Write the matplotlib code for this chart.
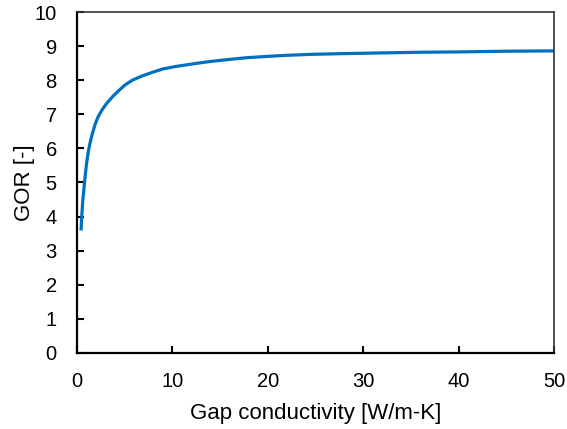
import matplotlib
matplotlib.use('Agg')
import matplotlib.pyplot as plt
import numpy as np

plt.rcParams['font.family'] = ['Liberation Sans', 'DejaVu Sans']

# values
conductivity = [0.42, 0.5, 0.6, 0.77, 0.9, 1.0, 1.19, 1.4, 1.6, 1.89, 2.2,
                2.6, 3.0, 3.3, 3.8, 4.4, 5.03, 5.8, 6.78, 8.0, 9.0, 10.3,
                12.4, 14, 16, 17.8, 20, 22, 24.7, 28, 31.8, 36, 40, 45, 50]
gor = [3.59, 4.0, 4.45, 4.95, 5.3, 5.55, 5.92, 6.2, 6.42, 6.70, 6.92,
       7.12, 7.28, 7.38, 7.54, 7.70, 7.86, 8.0, 8.12, 8.24, 8.33, 8.40,
       8.49, 8.55, 8.61, 8.66, 8.70, 8.73, 8.76, 8.78, 8.80, 8.82, 8.83, 8.85, 8.86]

fig = plt.figure(figsize=(5.67, 4.29), dpi=100)
ax = fig.add_axes([0.1358, 0.1772, 0.8412, 0.7948])

ax.plot(conductivity, gor, color='#0070C0', lw=2.3, solid_capstyle='butt',
        solid_joinstyle='round')

ax.set_xlim(0, 50)
ax.set_ylim(0, 10)
ax.set_xticks(np.arange(0, 51, 10))
ax.set_yticks(np.arange(0, 11, 1))
ax.tick_params(direction='in', length=5, width=1.5, labelsize=14.5)
ax.tick_params(axis='x', pad=14)
ax.tick_params(axis='y', pad=14.5)

for side in ['left', 'bottom']:
    ax.spines[side].set_linewidth(1.6)
    ax.spines[side].set_color('black')
for side in ['top', 'right']:
    ax.spines[side].set_linewidth(1.2)
    ax.spines[side].set_color('#333333')

ax.set_xlabel('Gap conductivity [W/m-K]', fontsize=16, labelpad=8)
ax.set_ylabel('GOR [-]', fontsize=16, labelpad=0)

fig.savefig('out.png', dpi=100)
